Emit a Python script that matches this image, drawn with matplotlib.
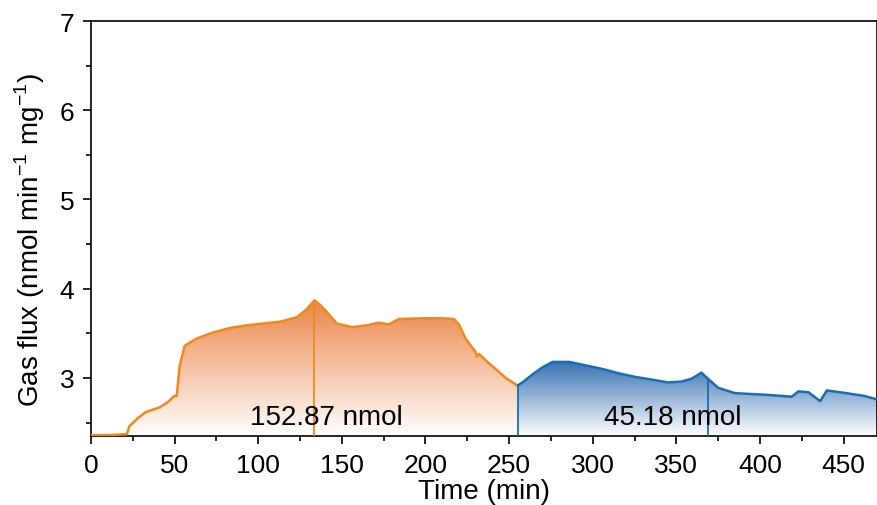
import numpy as np
import matplotlib
matplotlib.use("Agg")
import matplotlib.pyplot as plt
from matplotlib.colors import LinearSegmentedColormap

plt.rcParams["font.family"] = ["Liberation Sans", "DejaVu Sans"]
plt.rcParams["mathtext.fontset"] = "custom"
plt.rcParams["mathtext.rm"] = "Liberation Sans"

# first run (orange): time (min) vs gas flux (nmol min^-1 mg^-1)
t_run1 = [0, 10, 21.5, 23, 28, 33, 41, 46, 50, 51.3, 53, 56, 63, 73, 83, 93, 103,
          113, 123, 129, 133.6, 137, 141, 147, 156, 165, 172, 178, 184, 200, 210,
          217, 220, 224, 230, 230.8, 232, 237, 242, 248, 255.4]
y_run1 = [2.36, 2.36, 2.37, 2.46, 2.55, 2.62, 2.67, 2.73, 2.80, 2.80, 3.13, 3.36,
          3.44, 3.51, 3.56, 3.59, 3.61, 3.63, 3.68, 3.77, 3.87, 3.82, 3.74, 3.61,
          3.57, 3.59, 3.62, 3.60, 3.66, 3.67, 3.67, 3.66, 3.60, 3.44, 3.29, 3.24,
          3.27, 3.18, 3.10, 3.00, 2.91]

# second run (blue)
t_run2 = [255.4, 258, 264, 270, 276, 286, 296, 306, 316, 326, 336, 345, 353, 359,
          365, 369, 375, 385, 395, 405, 412, 419, 423, 429, 436, 440, 448, 455,
          462, 470]
y_run2 = [2.92, 2.95, 3.04, 3.12, 3.18, 3.18, 3.14, 3.10, 3.05, 3.01, 2.98, 2.95,
          2.96, 2.99, 3.06, 2.99, 2.89, 2.83, 2.82, 2.81, 2.80, 2.79, 2.85, 2.84,
          2.74, 2.86, 2.84, 2.82, 2.80, 2.76]

markers = [133.6, 255.4, 368.7]
labels = ["152.87 nmol", "45.18 nmol"]
label_x = [141, 348]

ORANGE = "#F0891A"
BLUE = "#1A6DB3"
YMIN, YMAX = 2.35, 7.0
XMIN, XMAX = 0, 470


def gradient_fill(ax, t, y, top_rgb, y_top):
    """Vertical gradient from top_rgb at y_top down to white at the axis floor."""
    cmap = LinearSegmentedColormap.from_list("g", [(1, 1, 1), top_rgb])
    grad = np.linspace(0, 1, 256).reshape(-1, 1)
    poly = ax.fill_between(t, y, YMIN, color="none", lw=0)
    img = ax.imshow(grad, cmap=cmap, aspect="auto", origin="lower",
                    extent=[t[0], t[-1], YMIN, y_top], vmin=0, vmax=1,
                    interpolation="bilinear", zorder=1)
    path = poly.get_paths()[0]
    img.set_clip_path(path, transform=ax.transData)


fig = plt.figure(figsize=(8.78, 5.06), dpi=100)
ax = fig.add_axes([0.1036, 0.1364, 0.8953, 0.8201])

gradient_fill(ax, t_run1, y_run1, (0.92, 0.50, 0.25), 3.95)
gradient_fill(ax, t_run2, y_run2, (0.15, 0.40, 0.68), 3.25)

ax.plot(t_run1, y_run1, color=ORANGE, lw=1.8, zorder=3)
ax.plot(t_run2, y_run2, color=BLUE, lw=1.8, zorder=3)

ax.vlines(markers[0], YMIN, np.interp(markers[0], t_run1, y_run1),
          color=ORANGE, lw=1.3, zorder=3)
for m in markers[1:]:
    ax.vlines(m, YMIN, np.interp(m, t_run2, y_run2), color=BLUE, lw=1.3, zorder=3)

for lx, lab in zip(label_x, labels):
    ax.text(lx, 2.56, lab, ha="center", va="center", fontsize=20, zorder=4)

ax.set_xlim(XMIN, XMAX)
ax.set_ylim(YMIN, YMAX)
ax.set_xticks(np.arange(0, 451, 50))
ax.set_xticks(np.arange(25, 470, 50), minor=True)
ax.set_yticks([3, 4, 5, 6, 7])
ax.set_yticks([2.5, 3.5, 4.5, 5.5, 6.5], minor=True)
ax.tick_params(which="major", direction="out", length=6, width=1.2, labelsize=19,
               pad=6)
ax.tick_params(which="minor", direction="out", length=3.5, width=1.2)
for sp in ax.spines.values():
    sp.set_linewidth(1.2)

ax.set_xlabel("Time (min)", fontsize=20, labelpad=1)
ax.set_ylabel("Gas flux (nmol min$^{-1}$ mg$^{-1}$)", fontsize=20)
ax.yaxis.set_label_coords(-0.056, 0.475)

fig.savefig("out.png", dpi=100)
